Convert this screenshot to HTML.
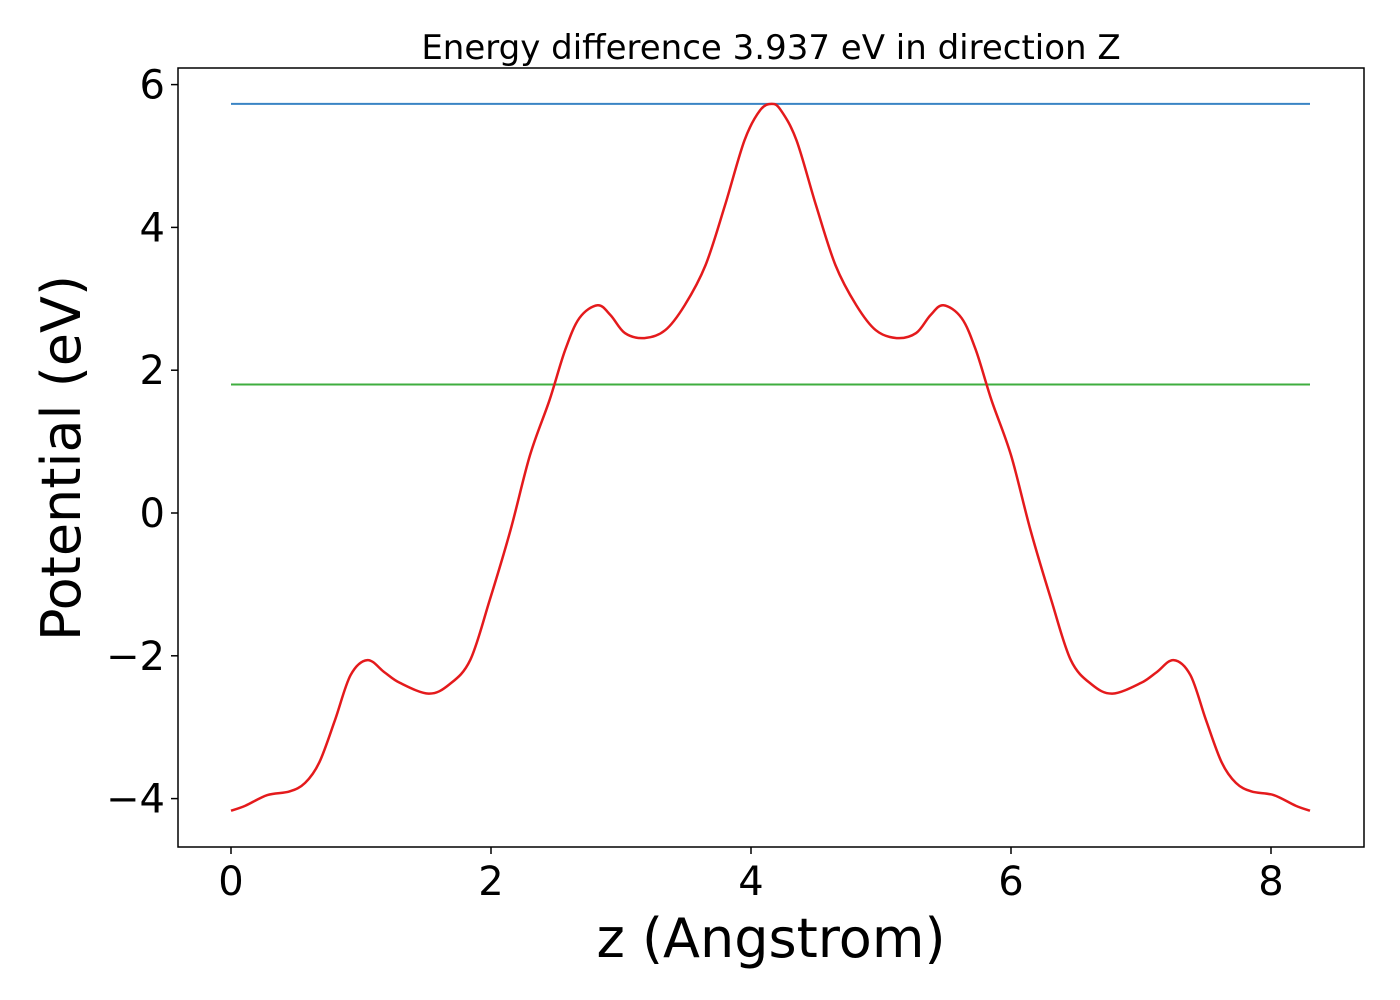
<!DOCTYPE html>
<html><head><meta charset="utf-8"><style>
html,body{margin:0;padding:0;background:#fff;}
svg{display:block;font-family:"DejaVu Sans","Liberation Sans",sans-serif;}
</style></head><body>
<svg id="chart" width="1400" height="1000">
<rect x="0" y="0" width="1400" height="1000" fill="#fff"/>
<g id="marks"></g>
<rect x="178" y="68" width="1186" height="779" fill="none" stroke="#000" stroke-width="1.5"/>
<g id="axes"></g>
<text x="771" y="59" text-anchor="middle" font-size="34">Energy difference 3.937 eV in direction Z</text>
<text x="771" y="957" text-anchor="middle" font-size="54">z (Angstrom)</text>
<text transform="translate(80,458) rotate(-90)" text-anchor="middle" font-size="54">Potential (eV)</text>
</svg>
<script>
const xTicks=[0,2,4,6,8];
const yTicks=[-4,-2,0,2,4,6];
const zVals=[0,0.11,0.28,0.45,0.57,0.68,0.8,0.92,1.05,1.18,1.3,1.52,1.68,1.84,1.99,2.15,2.3,2.45,2.57,2.68,2.82,2.92,3.03,3.18,3.34,3.49,3.65,3.8,3.95,4.07,4.16,4.23,4.35,4.5,4.65,4.81,4.96,5.12,5.27,5.38,5.48,5.62,5.73,5.85,6.0,6.15,6.31,6.46,6.62,6.78,7.0,7.12,7.25,7.38,7.5,7.62,7.73,7.85,8.02,8.19,8.3];
const potVals=[-4.17,-4.1,-3.95,-3.9,-3.78,-3.49,-2.9,-2.27,-2.06,-2.23,-2.38,-2.53,-2.4,-2.06,-1.22,-0.24,0.81,1.58,2.28,2.73,2.91,2.77,2.52,2.45,2.56,2.91,3.47,4.31,5.22,5.64,5.73,5.64,5.22,4.31,3.47,2.91,2.56,2.45,2.52,2.77,2.91,2.73,2.28,1.58,0.81,-0.24,-1.22,-2.06,-2.4,-2.53,-2.38,-2.23,-2.06,-2.27,-2.9,-3.49,-3.78,-3.9,-3.95,-4.1,-4.17];
const maxLevel=[5.73];
const minLevel=[1.8];
const xRange=[0,8.3];
const NS='http://www.w3.org/2000/svg';
const X=v=>231+v*130;
const Y=v=>513-v*71.4;
const marks=document.getElementById('marks'), axes=document.getElementById('axes');
function mk(tag,attrs,parent){const e=document.createElementNS(NS,tag);for(const k in attrs)e.setAttribute(k,attrs[k]);parent.appendChild(e);return e;}
xTicks.forEach(t=>{
  const l=mk('line',{x1:X(t),x2:X(t),y1:847,y2:854,stroke:'#000','stroke-width':1.5},axes);
  
  
  const tx=mk('text',{x:X(t),y:895,'text-anchor':'middle','font-size':40},axes);
  tx.textContent=String(t);
  
  
});
yTicks.forEach(t=>{
  const l=mk('line',{x1:171,x2:178,y1:Y(t),y2:Y(t),stroke:'#000','stroke-width':1.5},axes);
  
  
  const tx=mk('text',{x:165,y:Y(t)+14,'text-anchor':'end','font-size':40},axes);
  tx.textContent=(t<0?'\u2212'+(-t):String(t));
  
  
});
const b=mk('line',{x1:X(xRange[0]),x2:X(xRange[1]),y1:Y(maxLevel[0]),y2:Y(maxLevel[0]),stroke:'#3a84c4','stroke-width':2},marks);


const g=mk('line',{x1:X(xRange[0]),x2:X(xRange[1]),y1:Y(minLevel[0]),y2:Y(minLevel[0]),stroke:'#3fae3f','stroke-width':2},marks);


const P=zVals.map((z,i)=>[X(z),Y(potVals[i])]);
let d='M'+P[0][0]+','+P[0][1];
for(let i=0;i<P.length-1;i++){
  const p0=P[Math.max(0,i-1)],p1=P[i],p2=P[i+1],p3=P[Math.min(P.length-1,i+2)];
  const c1=[p1[0]+(p2[0]-p0[0])/6,p1[1]+(p2[1]-p0[1])/6];
  const c2=[p2[0]-(p3[0]-p1[0])/6,p2[1]-(p3[1]-p1[1])/6];
  d+=' C'+c1[0]+','+c1[1]+' '+c2[0]+','+c2[1]+' '+p2[0]+','+p2[1];
}
const c=mk('path',{d:d,fill:'none',stroke:'#e41a1c','stroke-width':2.5},marks);


</script>
</body></html>
